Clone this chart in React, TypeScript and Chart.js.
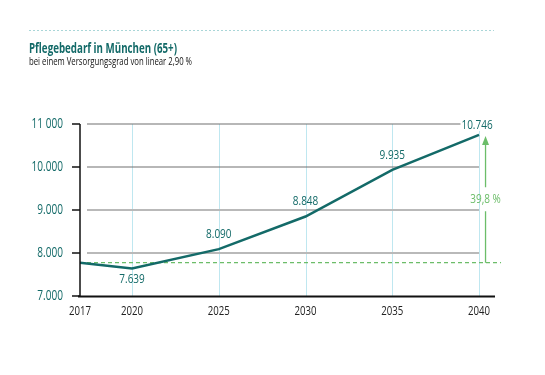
import React, { useEffect, useRef } from "react";
import { Chart, registerables } from "chart.js";
Chart.register(...registerables);

const years = [2017, 2020, 2025, 2030, 2035, 2040];
const values = [7775, 7639, 8090, 8848, 9935, 10746];
const valueLabels = ["", "7.639", "8.090", "8.848", "9.935", "10.746"];
const yTicks = [7000, 8000, 9000, 10000, 11000];
const yTickLabels = ["7.000", "8.000", "9.000", "10.000", "11 000"];
const growthLabel = "39,8 %";
const titleText = "Pflegebedarf in München (65+)";
const subtitleText = "bei einem Versorgungsgrad von linear 2,90 %";

const FONT = '"Open Sans", "Noto Sans", "DejaVu Sans", sans-serif';
const TEAL = "#136a68";
const GREEN = "#6cbd69";
const SX = 0.74; // horizontal condensing of text

function drawText(ctx: any, text: string, x: number, y: number, font: string, color: string, align: string, sx: number) {
  ctx.save();
  ctx.font = font;
  ctx.fillStyle = color;
  ctx.textBaseline = "middle";
  ctx.textAlign = align;
  ctx.translate(x, y);
  ctx.scale(sx, 1);
  ctx.fillText(text, 0, 0);
  ctx.restore();
}

function textWidth(ctx: any, text: string, font: string, sx: number) {
  ctx.save();
  ctx.font = font;
  const w = ctx.measureText(text).width * sx;
  ctx.restore();
  return w;
}

function drawFit(ctx: any, text: string, x: number, y: number, font: string, color: string, targetW: number) {
  ctx.save();
  ctx.font = font;
  const w = ctx.measureText(text).width;
  ctx.restore();
  drawText(ctx, text, x, y, font, color, "left", targetW / w);
}

const decor = {
  id: "decor",
  beforeDatasetsDraw(chart: any) {
    const { ctx, chartArea } = chart;
    const xs = chart.scales.x;
    const ys = chart.scales.y;
    ctx.save();
    // top dotted rule
    ctx.strokeStyle = "#a9d6d8";
    ctx.lineWidth = 1;
    ctx.setLineDash([2, 2]);
    ctx.beginPath();
    ctx.moveTo(29, 30.5);
    ctx.lineTo(494, 30.5);
    ctx.stroke();
    ctx.setLineDash([]);

    // titles
    drawFit(ctx, titleText, 29, 49, `bold 14px ${FONT}`, TEAL, 148);
    drawFit(ctx, subtitleText, 29, 62.5, `10px ${FONT}`, "#111", 163);

    const yTop = ys.getPixelForValue(yTicks[yTicks.length - 1]);
    const yBot = ys.getPixelForValue(yTicks[0]);
    const xEnd = xs.getPixelForValue(years[years.length - 1]);

    // vertical light lines
    ctx.strokeStyle = "#bfe7f0";
    ctx.lineWidth = 1;
    years.slice(1).forEach((yr) => {
      const px = Math.round(xs.getPixelForValue(yr)) + 0.5;
      ctx.beginPath();
      ctx.moveTo(px, yTop);
      ctx.lineTo(px, yBot);
      ctx.stroke();
    });

    // horizontal gridlines
    yTicks.slice(1).forEach((v) => {
      const py = ys.getPixelForValue(v);
      const dark = v >= 10000;
      ctx.strokeStyle = dark ? "#707070" : "#b9b9b9";
      ctx.lineWidth = dark ? 1.2 : 2;
      ctx.beginPath();
      ctx.moveTo(chartArea.left + 7, py);
      ctx.lineTo(xEnd, py);
      ctx.stroke();
    });

    // green dashed baseline
    const by = ys.getPixelForValue(values[0]);
    ctx.strokeStyle = GREEN;
    ctx.lineWidth = 1.2;
    ctx.setLineDash([4, 3]);
    ctx.beginPath();
    ctx.moveTo(chartArea.left, by);
    ctx.lineTo(xEnd + 22, by);
    ctx.stroke();
    ctx.setLineDash([]);
    ctx.restore();
  },
  afterDatasetsDraw(chart: any) {
    const { ctx, chartArea } = chart;
    const xs = chart.scales.x;
    const ys = chart.scales.y;
    ctx.save();
    const yTop = ys.getPixelForValue(yTicks[yTicks.length - 1]);
    const yBot = ys.getPixelForValue(yTicks[0]);

    // y axis line + tick marks
    ctx.strokeStyle = "#111";
    ctx.lineWidth = 1.5;
    ctx.beginPath();
    ctx.moveTo(chartArea.left, yTop);
    ctx.lineTo(chartArea.left, yBot);
    ctx.stroke();
    yTicks.forEach((v, i) => {
      const py = ys.getPixelForValue(v);
      ctx.beginPath();
      ctx.moveTo(chartArea.left - 8, py);
      ctx.lineTo(chartArea.left, py);
      ctx.stroke();
      drawText(ctx, yTickLabels[i], chartArea.left - 17, py, `14px ${FONT}`, TEAL, "right", 0.72);
    });
    // x axis line
    ctx.lineWidth = 2.2;
    ctx.beginPath();
    ctx.moveTo(chartArea.left - 2, yBot + 0.5);
    ctx.lineTo(chartArea.right, yBot + 0.5);
    ctx.stroke();

    // x labels
    years.forEach((yr) => {
      drawText(ctx, String(yr), xs.getPixelForValue(yr), yBot + 15, `13px ${FONT}`, "#222", "center", SX);
    });

    // value labels
    const vfont = `13.5px ${FONT}`;
    valueLabels.forEach((lab, i) => {
      if (!lab) return;
      const px = xs.getPixelForValue(years[i]);
      const py = ys.getPixelForValue(values[i]);
      let lx = px;
      let ly = py - 15;
      if (i === 1) ly = py + 11;
      if (i === valueLabels.length - 1) {
        lx = px - 2;
        ly = yTop + 1;
        const w = textWidth(ctx, lab, vfont, SX);
        ctx.fillStyle = "#fff";
        ctx.fillRect(lx - w / 2 - 1, ly - 6, w + 2, 12);
      }
      drawText(ctx, lab, lx, ly, vfont, TEAL, "center", SX);
    });

    // growth arrow
    const ax = xs.getPixelForValue(years[years.length - 1]) + 6.5;
    const aBot = ys.getPixelForValue(values[0]);
    const aTop = ys.getPixelForValue(values[values.length - 1]) + 1;
    const mid = (aBot + aTop) / 2;
    ctx.strokeStyle = GREEN;
    ctx.fillStyle = GREEN;
    ctx.lineWidth = 1.3;
    ctx.beginPath();
    ctx.moveTo(ax, aBot);
    ctx.lineTo(ax, mid + 12);
    ctx.moveTo(ax, mid - 12);
    ctx.lineTo(ax, aTop + 8);
    ctx.stroke();
    ctx.beginPath();
    ctx.moveTo(ax, aTop);
    ctx.lineTo(ax - 3.5, aTop + 9);
    ctx.lineTo(ax + 3.5, aTop + 9);
    ctx.closePath();
    ctx.fill();
    drawText(ctx, growthLabel, ax, mid, vfont, GREEN, "center", SX);
    ctx.restore();
  },
};

export default function App() {
  const ref = useRef<HTMLCanvasElement | null>(null);
  useEffect(() => {
    if (!ref.current) return;
    const chart = new Chart(ref.current, {
      type: "line",
      data: {
        datasets: [
          {
            data: years.map((yr, i) => ({ x: yr, y: values[i] })),
            borderColor: TEAL,
            borderWidth: 2.5,
            pointRadius: 0,
            tension: 0,
            fill: false,
          },
        ],
      },
      options: {
        animation: false,
        responsive: false,
        devicePixelRatio: 1,
        layout: { padding: { left: 29, right: 50, top: 124, bottom: 54 } },
        plugins: { legend: { display: false }, tooltip: { enabled: false }, title: { display: false } },
        scales: {
          x: {
            type: "linear",
            min: 2017,
            max: 2040.92,
            grid: { display: false },
            border: { display: false },
            afterBuildTicks: (s: any) => {
              s.ticks = years.map((v) => ({ value: v }));
            },
            afterFit: (s: any) => {
              s.height = 25;
            },
            ticks: { display: false },
          },
          y: {
            min: 7000,
            max: 11000,
            grid: { display: false },
            border: { display: false },
            afterBuildTicks: (s: any) => {
              s.ticks = yTicks.map((v) => ({ value: v }));
            },
            afterFit: (s: any) => {
              s.width = 51;
            },
            ticks: { display: false },
          },
        },
      },
      plugins: [decor],
    } as any);
    return () => chart.destroy();
  }, []);
  return (
    <div style={{ position: "absolute", left: 0, top: 0, width: 545, height: 375, background: "#fff" }}>
      <canvas ref={ref} width={545} height={375} style={{ display: "block" }} />
    </div>
  );
}
